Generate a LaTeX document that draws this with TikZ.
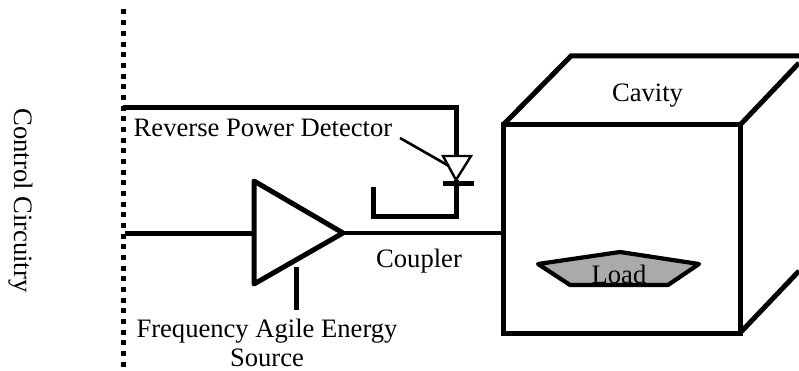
\documentclass[tikz,border=0pt]{standalone}
\usepackage{fontspec}
\setmainfont{Liberation Serif}
\tikzset{
  x=1pt,y=-1pt,
  wire/.style={line width=5pt,line join=miter,black},
  thin wire/.style={line width=4pt,black},
  box/.style={line width=5pt,line join=miter,black},
  lab/.style={inner sep=0pt,anchor=base,font=\fontsize{26.6}{30}\selectfont,black},
}
\begin{document}
\begin{tikzpicture}
\useasboundingbox (0,0) rectangle (799,371);
% named anchors
\coordinate (busT) at (123,9.5);
\coordinate (busB) at (123,371);
\coordinate (fbL) at (123,108);
\coordinate (fbR) at (456,108);
\coordinate (dTop) at (456,156);
\coordinate (dL) at (443,156);
\coordinate (dR) at (471,156);
\coordinate (dA) at (456,180);
\coordinate (barL) at (443,183.5);
\coordinate (barR) at (474,183.5);
\coordinate (cupR) at (456,216);
\coordinate (cupL) at (373,216);
\coordinate (cupT) at (373,187);
\coordinate (leadS) at (400,138);
\coordinate (leadE) at (449,166);
\coordinate (inL) at (125,233);
\coordinate (ampA) at (254,181);
\coordinate (ampB) at (254,284);
\coordinate (ampC) at (343,233);
\coordinate (ampM) at (254,233);
\coordinate (tickT) at (296,267);
\coordinate (tickB) at (296,310);
\coordinate (cavIn) at (503,233);
\coordinate (fTL) at (503,125);
\coordinate (fTR) at (740,125);
\coordinate (fBR) at (740,333);
\coordinate (fBL) at (503,333);
\coordinate (bTL) at (571,56);
\coordinate (bTR) at (799,56);
\coordinate (rT) at (799,63);
\coordinate (rB) at (799,271);
% dotted bus
\draw[line width=5pt,dash pattern=on 5pt off 5.67pt] (busT) -- (busB);
% feedback & detector
\draw[wire] (fbL) -- (fbR) -- (dTop);
\draw[line width=2.4pt,line join=miter] (dL) -- (dR) -- (dA) -- cycle;
\draw[wire] (barL) -- (barR);
\draw[wire] (dA) -- (cupR) -- (cupL) -- (cupT);
\draw[line width=2.6pt] (leadS) -- (leadE);
% amplifier
\draw[wire] (inL) -- (ampM);
\draw[wire,line join=round] (ampA) -- (ampB) -- (ampC) -- cycle;
\draw[wire] (tickT) -- (tickB);
\draw[thin wire] (ampC) -- (cavIn);
% cavity
\draw[box] (fTL) -- (fTR) -- (fBR) -- (fBL) -- cycle;
\draw[box] (fTL) -- (bTL) -- (bTR);
\draw[box] (fTR) -- (rT);
\draw[box] (fBR) -- (rB);
% load
\draw[line width=4.2pt,line join=round,fill={rgb,255:red,170;green,170;blue,170}]
  (538,264) -- (620,252) -- (699,264) -- (668,285) -- (570,285) -- cycle;
% labels
\node[lab] (cavity) at (647.5,101.5) {Cavity};
\node[lab] (load) at (619,283.5) {Load};
\node[lab] (coupler) at (419,267) {Coupler};
\node[lab] (rpd) at (263,137) {Reverse Power Detector};
\node[lab] (fa) at (267,337) {Frequency Agile Energy};
\node[lab] (src) at (267,366.5) {Source};
\node[lab,rotate=-90] (ctl) at (14,200.5) {Control Circuitry};
\end{tikzpicture}
\end{document}
